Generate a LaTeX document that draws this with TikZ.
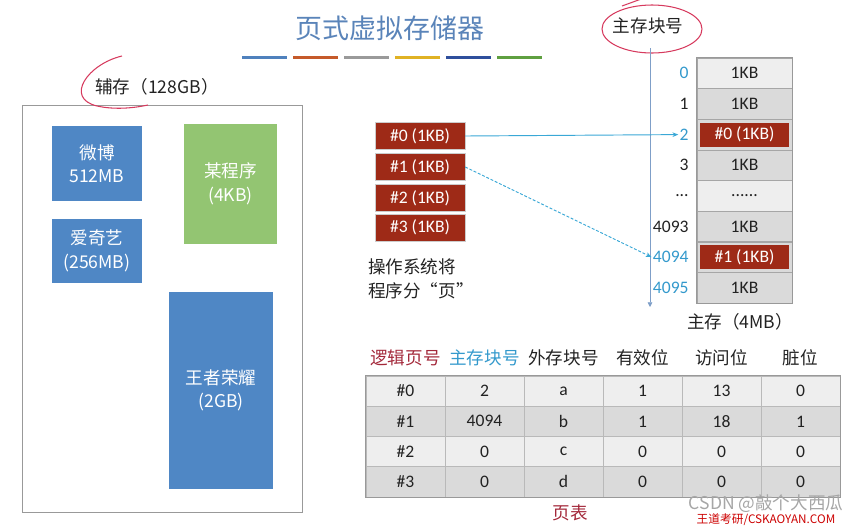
\documentclass[tikz,border=0pt]{standalone}
\usepackage{fontspec}
\setmainfont{Carlito}
\newfontfamily\cjk{Noto Sans CJK SC}
\usepackage{xcolor}
\usepackage{tikz}
\usetikzlibrary{arrows.meta}
\usetikzlibrary{calc}

\definecolor{titleblue}{HTML}{5A84B9}
\definecolor{boxblue}{HTML}{4F87C5}
\definecolor{boxgreen}{HTML}{93C572}
\definecolor{pagered}{HTML}{9E2A17}
\definecolor{linkblue}{HTML}{3AA8D6}
\definecolor{numblue}{HTML}{3399CC}
\definecolor{axisblue}{HTML}{7F9FC8}
\definecolor{inkred}{HTML}{D63A5E}
\definecolor{headred}{HTML}{A3283A}
\definecolor{rowlight}{HTML}{EEEEEE}
\definecolor{rowdark}{HTML}{DADADA}
\definecolor{inkgray}{HTML}{222222}
\definecolor{barblue}{HTML}{4F81BD}
\definecolor{barorange}{HTML}{C55A2A}
\definecolor{bargray}{HTML}{9A9A9A}
\definecolor{baryellow}{HTML}{E0B224}
\definecolor{barnavy}{HTML}{2F4F9C}
\definecolor{bargreen}{HTML}{5FA040}

\tikzset{
  every node/.style={font=\fontsize{15}{18}\selectfont, text=inkgray},
  progbox/.style={fill=boxblue, inner sep=0, align=center, text=white,
    font=\cjk\fontsize{15}{20}\selectfont},
  pagebox/.style={fill=pagered, draw=gray!40, minimum width=2.7cm,
    minimum height=0.81cm, inner sep=0, text=white},
  mcell/.style={draw=gray!70, minimum width=2.85cm, minimum height=0.919cm, inner sep=0},
  mred/.style={fill=pagered, minimum width=2.67cm, minimum height=0.72cm,
    inner sep=0, text=white},
  numlab/.style={anchor=east, inner sep=1pt},
  tcell/.style={draw=gray!55, minimum width=2.37cm, minimum height=0.9075cm, inner sep=0},
  thead/.style={font=\cjk\fontsize{15}{18}\selectfont},
  link/.style={draw=linkblue, line width=0.8pt, -{Stealth[length=5pt,width=4pt]}},
  ink/.style={draw=inkred, line width=0.9pt},
}

\begin{document}
\begin{tikzpicture}[x=0.03cm,y=-0.03cm]
\useasboundingbox (0,0) rectangle (867,526);

% title and colour bars
\node[font=\cjk\fontsize{23}{26}\selectfont, text=titleblue] (title) at (390,28) {页式虚拟存储器};
\foreach \col [count=\i from 0] in {barblue,barorange,bargray,baryellow,barnavy,bargreen}
  \draw[\col, line width=0.09cm] ({242+51*\i},57) -- ({287+51*\i},57);

% secondary storage
\draw[gray!80, line width=0.8pt] (22,105) rectangle (302,512);
\node[font=\cjk\fontsize{15}{18}\selectfont] (disklab) at (157,87) {辅存（128GB）};
\draw[ink] (122,56) .. controls (88,64) and (64,98) .. (97,106) .. controls (115,110) and (134,108) .. (148,105);
\node[progbox, minimum width=2.7cm, minimum height=2.25cm] (weibo) at (97,163.5) {微博\\512MB};
\node[progbox, minimum width=2.7cm, minimum height=1.92cm] (iqiyi) at (97,251) {爱奇艺\\(256MB)};
\node[progbox, fill=boxgreen, minimum width=2.79cm, minimum height=3.6cm] (prog) at (230.5,184) {某程序\\(4KB)};
\node[progbox, minimum width=3.12cm, minimum height=5.91cm] (wzry) at (221,390.5) {王者荣耀\\(2GB)};

% pages of the program
\node[pagebox] (p0) at (420,136) {\#0 (1KB)};
\node[pagebox] (p1) at (420,167) {\#1 (1KB)};
\node[pagebox] (p2) at (420,198) {\#2 (1KB)};
\node[pagebox] (p3) at (420,227.5) {\#3 (1KB)};
\node[anchor=north west, align=left, inner sep=0, font=\cjk\fontsize{15}{21}\selectfont] (oslab) at (368,258) {操作系统将\\程序分“页”};

% main memory
\node[font=\cjk\fontsize{15}{18}\selectfont] (framelab) at (648,26) {主存块号};
\draw[ink] (652,29) ellipse [x radius=1.5cm, y radius=0.72cm];
\draw[ink] (622,6) -- (644,-2);
\coordinate (vtop) at (650,48);
\coordinate (vbot) at (650,307);
\draw[axisblue, line width=0.6pt, -{Triangle[length=4pt,width=4pt]}] (vtop) -- (vbot);

\node[mcell, fill=rowlight] (m0) at (744.5,73.3) {1KB};
\node[mcell, fill=rowdark] (m1) at (744.5,103.9) {1KB};
\node[mcell, fill=rowdark] (m2) at (744.5,134.6) {};
\node[mred] (r2) at (m2) {\#0 (1KB)};
\node[mcell, fill=rowdark] (m3) at (744.5,165.2) {1KB};
\node[mcell, fill=rowlight] (m4) at (744.5,195.8) {......};
\node[mcell, fill=rowdark] (m5) at (744.5,226.4) {1KB};
\node[mcell, fill=rowdark] (m6) at (744.5,257.1) {};
\node[mred] (r6) at (m6) {\#1 (1KB)};
\node[mcell, fill=rowdark] (m7) at (744.5,287.7) {1KB};
\draw[gray!80, line width=0.8pt] (m0.north west) rectangle (m7.south east);

\node[numlab, text=numblue] (n0) at (690,73.3) {0};
\node[numlab] (n1) at (690,103.9) {1};
\node[numlab, text=numblue] (n2) at (690,134.6) {2};
\node[numlab] (n3) at (690,165.2) {3};
\node[numlab] (n4) at (690,195.8) {...};
\node[numlab] (n4093) at (690,226.4) {4093};
\node[numlab, text=numblue] (n4094) at (690,257.1) {4094};
\node[numlab, text=numblue] (n4095) at (690,287.7) {4095};
\node[font=\cjk\fontsize{15}{18}\selectfont] (memlab) at (740,322) {主存（4MB）};

% page -> frame
\draw[link] (p0.east) -- (n2.west);
\draw[link, dashed, dash pattern=on 2.5pt off 1.5pt] (p1.east) -- (n4094.west);

% page table
\foreach \txt/\col [count=\c from 0] in {逻辑页号/headred,主存块号/numblue,外存块号/inkgray,有效位/inkgray,访问位/inkgray,脏位/inkgray}
  \node[thead, text=\col] (h\c) at ({405.5+79*\c},358) {\txt};
\foreach \fc/\vals [count=\r from 0] in {rowlight/{\#0,2,a,1,13,0},rowdark/{\#1,4094,b,1,18,1},rowlight/{\#2,0,c,0,0,0},rowdark/{\#3,0,d,0,0,0}}
  \foreach \v [count=\c from 0] in \vals
    \node[tcell, fill=\fc] (t\r\c) at ({405.5+79*\c},{391.1+30.25*\r}) {\v};
\draw[gray!80, line width=0.8pt] (t00.north west) rectangle (t35.south east);
\node[thead, text=headred] (ptlab) at (570,513) {页表};

% watermark
\node[font=\cjk\fontsize{15}{18}\selectfont, text=gray!70] (mark) at (766,504) {CSDN @敲个大西瓜};
\node[font=\cjk\fontsize{10}{12}\selectfont, text=red!80!black] (site) at (766,519.5) {王道考研/CSKAOYAN.COM};
\end{tikzpicture}
\end{document}
